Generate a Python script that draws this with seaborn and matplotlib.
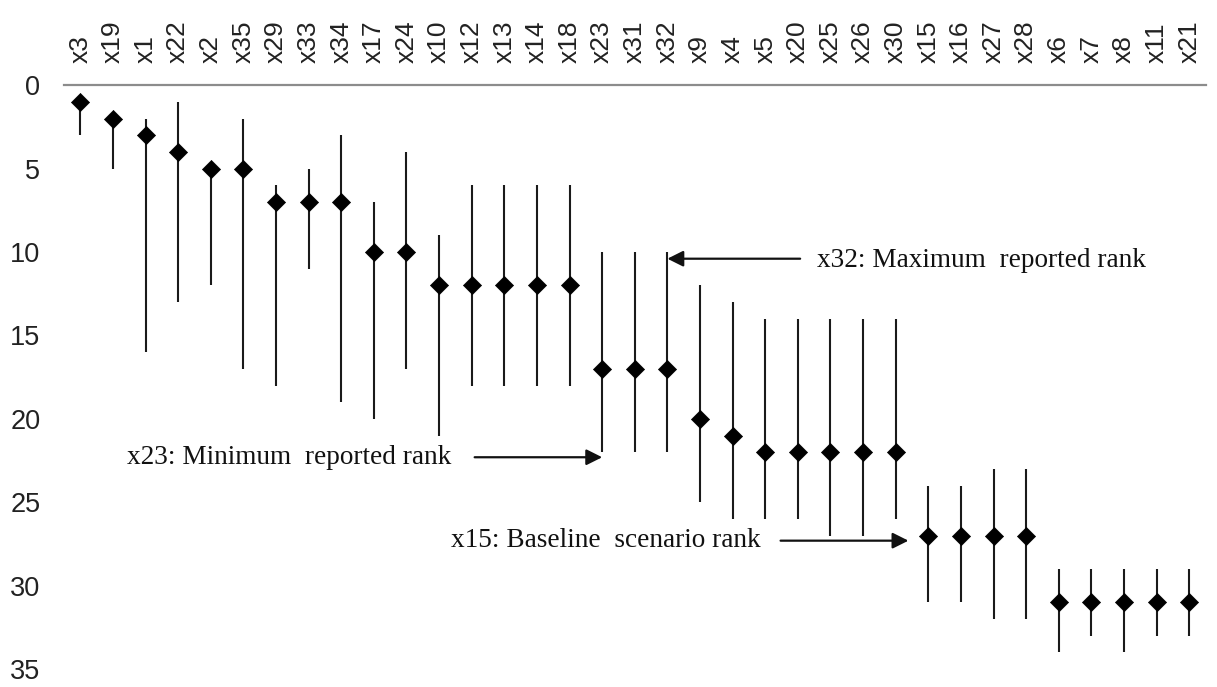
import matplotlib
matplotlib.use("Agg")
import matplotlib.pyplot as plt
import seaborn as sns
import pandas as pd

# Variables ordered by baseline rank
variables = ["x3", "x19", "x1", "x22", "x2", "x35", "x29", "x33", "x34", "x17",
             "x24", "x10", "x12", "x13", "x14", "x18", "x23", "x31", "x32", "x9",
             "x4", "x5", "x20", "x25", "x26", "x30", "x15", "x16", "x27", "x28",
             "x6", "x7", "x8", "x11", "x21"]
baseline_rank = [1, 2, 3, 4, 5, 5, 7, 7, 7, 10,
                 10, 12, 12, 12, 12, 12, 17, 17, 17, 20,
                 21, 22, 22, 22, 22, 22, 27, 27, 27, 27,
                 31, 31, 31, 31, 31]
min_rank = [1, 2, 2, 1, 5, 2, 6, 5, 3, 7,
            4, 9, 6, 6, 6, 6, 10, 10, 10, 12,
            13, 14, 14, 14, 14, 14, 24, 24, 23, 23,
            29, 29, 29, 29, 29]
max_rank = [3, 5, 16, 13, 12, 17, 18, 11, 19, 20,
            17, 21, 18, 18, 18, 18, 22, 22, 22, 25,
            26, 26, 26, 27, 27, 26, 31, 31, 32, 32,
            34, 33, 34, 33, 33]
y_ticks = [0, 5, 10, 15, 20, 25, 30, 35]

df = pd.DataFrame({"variable": variables, "baseline": baseline_rank,
                   "low": min_rank, "high": max_rank})

sns.set_theme(style="white")
plt.rcParams["font.family"] = ["Liberation Sans", "DejaVu Sans"]

fig = plt.figure(figsize=(12.17, 6.87), dpi=100)
ax = fig.add_axes([0.0526, 0.026, 0.938, 0.850])

# Range of reported ranks for each variable
ax.vlines(df["variable"], df["low"], df["high"], color="#1a1a1a", lw=1.5, zorder=2)

# Baseline scenario rank
sns.scatterplot(data=df, x="variable", y="baseline", marker="D", s=85,
                color="black", edgecolor="black", linewidth=0.5, ax=ax, zorder=3)

ax.set_xlim(-0.5, len(variables) - 0.5)
ax.set_ylim(35, 0)
ax.set_yticks(y_ticks)
ax.set_xlabel("")
ax.set_ylabel("")

ax.xaxis.tick_top()
ax.tick_params(axis="x", which="both", length=0, pad=16, labelsize=19,
               labelrotation=90, labelcolor="#222222")
ax.tick_params(axis="y", which="both", length=0, pad=17, labelsize=19.5,
               labelcolor="#222222")

for side in ["left", "right", "bottom"]:
    ax.spines[side].set_visible(False)
ax.spines["top"].set_color("#8c8c8c")
ax.spines["top"].set_linewidth(1.6)

serif = ["Liberation Serif", "DejaVu Serif"]
arrow = dict(arrowstyle="-|>", color="#111111", lw=1.6, mutation_scale=24,
             shrinkA=0, shrinkB=0)

idx = {v: i for i, v in enumerate(variables)}

ax.annotate("", xy=(idx["x32"], 10.4), xytext=(22.07, 10.4), arrowprops=arrow)
ax.text(22.6, 10.5, "x32: Maximum  reported rank", family=serif, fontsize=19.6,
        ha="left", va="center", color="#111111")

ax.annotate("", xy=(idx["x23"], 22.3), xytext=(12.09, 22.3), arrowprops=arrow)
ax.text(11.38, 22.3, "x23: Minimum  reported rank", family=serif, fontsize=19.6,
        ha="right", va="center", color="#111111")

ax.annotate("", xy=(idx["x15"] - 0.61, 27.3), xytext=(21.47, 27.3), arrowprops=arrow)
ax.text(20.87, 27.3, "x15: Baseline  scenario rank", family=serif, fontsize=19.6,
        ha="right", va="center", color="#111111")

fig.savefig("out.png", dpi=100)
